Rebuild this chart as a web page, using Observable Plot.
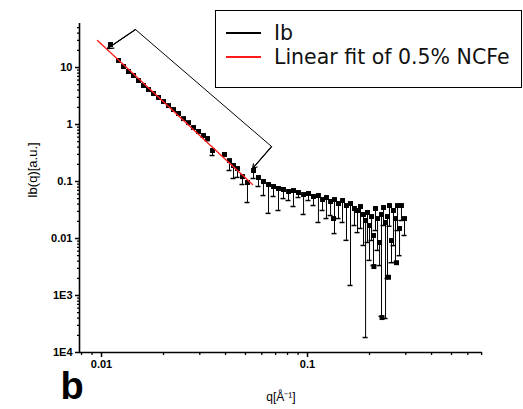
<!DOCTYPE html>
<html><head><meta charset="utf-8">
<script src="https://cdn.jsdelivr.net/npm/d3@7"></script>
<script src="https://cdn.jsdelivr.net/npm/@observablehq/plot@0.6"></script>
<style>
body{margin:0;background:#fff;}
#wrap{position:relative;width:523px;height:409px;font-family:"Liberation Sans",Arial,sans-serif;}
#legend{position:absolute;left:215px;top:10px;width:307px;height:78px;border:1.3px solid #000;box-sizing:border-box;background:#fff;}
.sample{position:absolute;left:10px;width:35px;height:4px;}
.ltext{position:absolute;left:58px;font-family:"DejaVu Sans",sans-serif;font-size:20.5px;line-height:20px;color:#111;white-space:nowrap;}
</style></head><body><div id="wrap"></div>
<script>
// Ib data: q [1/Å], intensity, lower end of error bar
const q = [0.01106,0.01209,0.01279,0.01352,0.01430,0.01512,0.01599,0.01691,0.01788,0.01891,0.02000,0.02115,0.02237,0.02365,0.02501,0.02645,0.02797,0.02958,0.03128,0.03271,0.03459,0.03954,0.04182,0.04374,0.04572,0.04834,0.05112,0.05470,0.05780,0.06112,0.06468,0.06840,0.07230,0.07645,0.08090,0.08550,0.09040,0.09570,0.1011,0.1069,0.1130,0.1183,0.1236,0.1294,0.1337,0.1352,0.1414,0.1479,0.1546,0.1617,0.1690,0.1749,0.1808,0.1870,0.1914,0.1955,0.2000,0.2046,0.2091,0.2100,0.2138,0.2188,0.2238,0.2287,0.2300,0.2339,0.2392,0.2445,0.2472,0.2500,0.2557,0.2614,0.2673,0.2704,0.2733,0.2797,0.2858,0.2958];
const intensity = [25.3,13.3,10.4,8.51,7.24,5.91,4.83,4.11,3.50,2.98,2.53,2.15,1.83,1.56,1.27,1.08,0.886,0.754,0.641,0.568,0.350,0.298,0.233,0.191,0.169,0.122,0.0960,0.156,0.1175,0.100,0.0886,0.0817,0.0754,0.0724,0.0668,0.0695,0.0641,0.0591,0.0616,0.0546,0.0568,0.0483,0.0524,0.0446,0.0224,0.0483,0.0411,0.0464,0.0379,0.0411,0.0336,0.0310,0.0364,0.0264,0.0207,0.0286,0.0169,0.0243,0.0113,0.00322,0.0336,0.0224,0.00851,0.0264,0.00041,0.0350,0.0191,0.0243,0.00209,0.0379,0.00922,0.0310,0.0224,0.00376,0.0379,0.0150,0.0379,0.0224];
const lower = [25.3,13.3,10.4,8.51,7.24,5.91,4.83,4.11,3.50,2.98,2.53,2.15,1.83,1.56,1.27,1.08,0.886,0.754,0.60,0.52,0.286,0.298,0.156,0.113,0.118,0.0886,0.0428,0.113,0.0817,0.0567,0.0276,0.0546,0.0310,0.0502,0.0464,0.0364,0.0524,0.0264,0.0464,0.0379,0.0191,0.0310,0.0224,0.0253,0.0224,0.0122,0.0224,0.0191,0.00928,0.0015,0.0169,0.0127,0.0150,0.00755,0.000183,0.00851,0.00413,0.00922,0.00335,0.00322,0.0138,0.00618,0.00335,0.00043,0.00041,0.0169,0.000395,0.00199,0.00209,0.0164,0.00376,0.00750,0.00380,0.00376,0.0138,0.00500,0.0207,0.0113];

// linear fit of 0.5% NCFe
const fitQ = [0.00956, 0.0541];
const fitI = [29.8, 0.0886];

// bracket annotation (tip 1, peak, corner, tip 2)
const annQ = [0.0107, 0.01462, 0.0669, 0.0541];
const annI = [21.5, 46.4, 0.411, 0.169];

// axes
const xDomain = [0.00782, 0.707];
const yDomain = [1e-4, 59.2];
const xMajor = [0.01, 0.1];
const xMajorLabels = ["0.01", "0.1"];
const xMinor = [0.008,0.009,0.02,0.03,0.04,0.05,0.06,0.07,0.08,0.09,0.2,0.3,0.4,0.5,0.6,0.7];
const yMajor = [1e-4, 1e-3, 0.01, 0.1, 1, 10];
const yMajorLabels = ["1E4", "1E3", "0.01", "0.1", "1", "10"];
const yMinor = [2e-4,3e-4,4e-4,5e-4,6e-4,7e-4,8e-4,9e-4,2e-3,3e-3,4e-3,5e-3,6e-3,7e-3,8e-3,9e-3,0.02,0.03,0.04,0.05,0.06,0.07,0.08,0.09,0.2,0.3,0.4,0.5,0.6,0.7,0.8,0.9,2,3,4,5,6,7,8,9,20,30,40,50];
const xTitle = "q[Å⁻¹]";
const yTitle = "Ib(q)[a.u.]";
const panelLabel = "b";
const legendItems = ["Ib", "Linear fit of 0.5% NCFe"];
const legendColors = ["#000000", "#ff1a1a"];

const data = q.map((d, i) => ({q: d, I: intensity[i], lo: lower[i]}));
const fit = fitQ.map((d, i) => ({q: d, I: fitI[i]}));
const ann = annQ.map((d, i) => ({q: d, I: annI[i]}));
const capSymbol = {draw(ctx, size) { ctx.moveTo(-3, 0); ctx.lineTo(2, 0); }};

const chart = Plot.plot({
  width: 523, height: 409,
  marginLeft: 79, marginTop: 23, marginBottom: 57, marginRight: 41,
  style: {fontFamily: '"Liberation Sans", Arial, sans-serif', fontSize: "11px", color: "#000", background: "transparent", overflow: "visible"},
  x: {type: "log", domain: xDomain},
  y: {type: "log", domain: yDomain},
  marks: [
    Plot.axisX({ticks: xMinor, tickSize: 3, tickFormat: () => "", label: null, strokeWidth: 1.3}),
    Plot.axisX({ticks: xMajor, tickSize: 5, tickPadding: 3, tickFormat: d => xMajorLabels[xMajor.indexOf(d)], label: null, fontWeight: "bold", strokeWidth: 1.5}),
    Plot.axisY({ticks: yMinor, tickSize: 2, tickFormat: () => "", label: null, strokeWidth: 1.3}),
    Plot.axisY({ticks: yMajor, tickSize: 4, tickPadding: 3, tickFormat: d => yMajorLabels[yMajor.indexOf(d)], label: null, fontWeight: "bold", strokeWidth: 1.5}),
    Plot.ruleX([xDomain[0]], {stroke: "#000", strokeWidth: 1.6}),
    Plot.ruleY([yDomain[0]], {stroke: "#000", strokeWidth: 1.6}),
    Plot.ruleX(data, {x: "q", y1: "I", y2: "lo", stroke: "#000", strokeWidth: 1}),
    Plot.dot(data.filter(d => d.lo < d.I), {x: "q", y: "lo", symbol: capSymbol, r: 3, stroke: "#000", strokeWidth: 1.5}),
    Plot.dot(data, {x: "q", y: "I", symbol: "square", r: 2.8, fill: "#000", stroke: "none"}),
    Plot.line(fit, {x: "q", y: "I", stroke: "#ff1a1a", strokeWidth: 1.3}),
    Plot.line(ann, {x: "q", y: "I", stroke: "#000", strokeWidth: 1}),
    Plot.arrow([ann[1]], {x1: "q", y1: "I", x2: () => ann[0].q, y2: () => ann[0].I, stroke: "#000", strokeWidth: 1.2, headLength: 8, insetEnd: 0}),
    Plot.arrow([ann[2]], {x1: "q", y1: "I", x2: () => ann[3].q, y2: () => ann[3].I, stroke: "#000", strokeWidth: 1.2, headLength: 6, insetEnd: 0}),
    Plot.text([xTitle], {frameAnchor: "bottom", dy: 48, fontSize: 12}),
    Plot.text([yTitle], {frameAnchor: "left", dx: -47, dy: 10, rotate: -90, fontSize: 13}),
    Plot.text([panelLabel], {frameAnchor: "bottom-left", dx: -19, dy: 46, fontSize: 38, fontWeight: "bold", fontFamily: '"Liberation Sans", Arial, sans-serif'})
  ]
});

const wrap = document.getElementById("wrap");
wrap.appendChild(chart);
const legend = document.createElement("div");
legend.id = "legend";
legendItems.forEach((name, i) => {
  const s = document.createElementNS("http://www.w3.org/2000/svg", "svg");
  s.setAttribute("class", "sample");
  s.setAttribute("width", "35");
  s.setAttribute("height", "4");
  s.style.top = (20 + i * 24) + "px";
  const ln = document.createElementNS("http://www.w3.org/2000/svg", "line");
  ln.setAttribute("x1", "0"); ln.setAttribute("x2", "35");
  ln.setAttribute("y1", "2"); ln.setAttribute("y2", "2");
  ln.setAttribute("stroke", legendColors[i]);
  ln.setAttribute("stroke-width", "1.8");
  s.appendChild(ln);
  legend.appendChild(s);
  const t = document.createElement("div");
  t.className = "ltext";
  t.style.top = (12 + i * 24) + "px";
  t.textContent = name;
  legend.appendChild(t);
});
wrap.appendChild(legend);
</script>
</body></html>
